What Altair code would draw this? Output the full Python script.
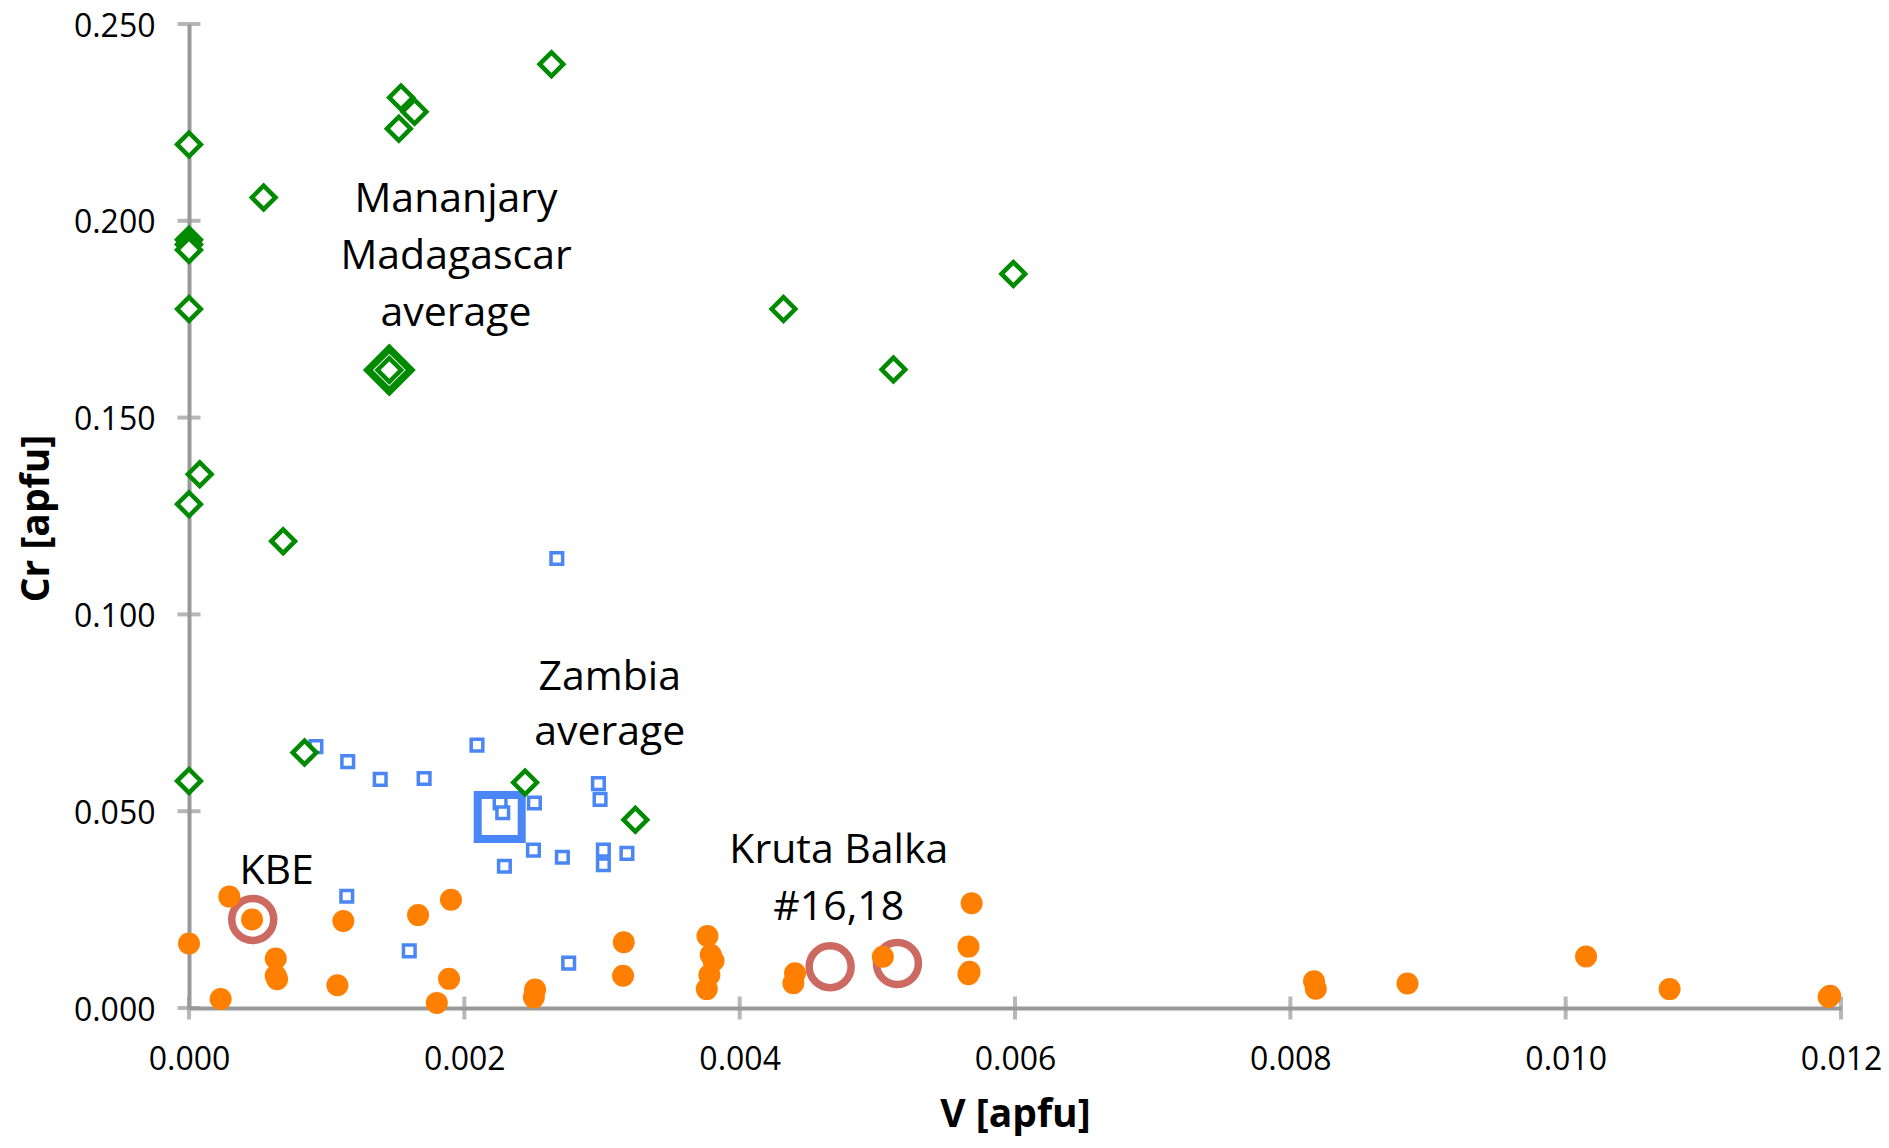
import altair as alt
import pandas as pd

# ---------------- data ----------------
green_x = [0.002633, 0.001540, 0.001638, 0.001524, 0.0, 0.000542, 0.0, 0.0, 0.0,
           0.0, 0.001455, 0.000078, 0.0, 0.000684, 0.004318, 0.005117, 0.005988,
           0.0, 0.000839, 0.002441, 0.003242]
green_y = [0.2398, 0.2313, 0.2277, 0.2234, 0.2194, 0.2059, 0.1952, 0.1940, 0.1926,
           0.1776, 0.1621, 0.1356, 0.1280, 0.1186, 0.1776, 0.1622, 0.1865,
           0.0577, 0.0649, 0.0573, 0.0478]
green_avg_x = [0.001455]
green_avg_y = [0.1621]

blue_x = [0.002672, 0.000922, 0.001153, 0.001389, 0.001708, 0.002092, 0.002974,
          0.002986, 0.002260, 0.002279, 0.002509, 0.002502, 0.002712, 0.003010,
          0.003010, 0.003181, 0.002291, 0.001146, 0.001600, 0.002758]
blue_y = [0.1142, 0.0664, 0.0626, 0.0581, 0.0583, 0.0668, 0.0570,
          0.0530, 0.0521, 0.0496, 0.0521, 0.0401, 0.0383, 0.0401,
          0.0364, 0.0393, 0.0360, 0.0284, 0.0145, 0.0114]
blue_avg_x = [0.002257]
blue_avg_y = [0.0485]

orange_x = [0.000293, 0.000458, 0.0, 0.000630, 0.000630, 0.000640, 0.000230,
            0.001121, 0.001078, 0.001664, 0.001903, 0.001889, 0.001800, 0.002514,
            0.002505, 0.003158, 0.003153, 0.003766, 0.003790, 0.003810, 0.003780,
            0.003761, 0.004402, 0.004390, 0.005040, 0.005685, 0.005662, 0.005662,
            0.005670, 0.008172, 0.008185, 0.008851, 0.010148, 0.010755, 0.011921,
            0.011910]
orange_y = [0.0283, 0.0225, 0.0164, 0.0126, 0.0082, 0.0073, 0.0023,
            0.0221, 0.0058, 0.0236, 0.0275, 0.0074, 0.0013, 0.0047,
            0.0027, 0.0167, 0.0082, 0.0183, 0.0135, 0.0120, 0.0084,
            0.0048, 0.0088, 0.0063, 0.0130, 0.0266, 0.0156, 0.0086,
            0.0092, 0.0068, 0.0049, 0.0062, 0.0131, 0.0048, 0.0031,
            0.0028]

ring_x = [0.000463, 0.004657, 0.005146]
ring_y = [0.0225, 0.0105, 0.0113]

label_text = ["Mananjary", "Madagascar", "average", "Zambia", "average", "KBE",
              "Kruta Balka", "#16,18"]
label_x = [0.00194, 0.00194, 0.00194, 0.003056, 0.003056, 0.000637, 0.00472, 0.00472]
label_y = [0.20228, 0.18782, 0.17335, 0.08071, 0.06675, 0.03147, 0.03673, 0.02234]

x_ticks = [0.0, 0.002, 0.004, 0.006, 0.008, 0.010, 0.012]
y_ticks = [0.0, 0.05, 0.10, 0.15, 0.20, 0.25]

# ---------------- styling ----------------
GRAY = "#999999"
GREEN = "#008a00"
BLUE = "#4a86f5"
ORANGE = "#ff7f00"
RED = "#cc6a62"
FONT = "Open Sans"

xs = alt.Scale(domain=[0, 0.012], nice=False, zero=False)
ys = alt.Scale(domain=[0, 0.25], nice=False, zero=False)

X = alt.X("V:Q", scale=xs, axis=alt.Axis(
    values=x_ticks, format=".3f", title="V [apfu]", grid=False, ticks=False, tickSize=0,
    labelFont=FONT, labelFontSize=32, labelColor="black", labelPadding=36,
    labelFlush=False, labelOverlap=False,
    domainColor=GRAY, domainWidth=4,
    titleFont=FONT, titleFontSize=39, titleFontWeight="bold", titleColor="black",
    titleX=826, titleY=106, titleBaseline="middle", titleAlign="center"))
Y = alt.Y("Cr:Q", scale=ys, axis=alt.Axis(
    values=y_ticks, format=".3f", title="Cr [apfu]", grid=False, ticks=False, tickSize=0,
    labelFont=FONT, labelFontSize=32, labelColor="black", labelPadding=34,
    labelFlush=False, labelOverlap=False, labelOffset=2,
    domainColor=GRAY, domainWidth=4,
    titleFont=FONT, titleFontSize=39, titleFontWeight="bold", titleColor="black",
    titleX=-153, titleY=494, titleBaseline="middle", titleAlign="center", titleAngle=270))


def df(xv, yv):
    return pd.DataFrame({"V": xv, "Cr": yv})


ytick_layer = alt.Chart(df([0.0] * len(y_ticks), y_ticks)).mark_tick(
    orient="horizontal", size=23, thickness=4, color=GRAY).encode(x=X, y=Y)
xtick_layer = alt.Chart(df(x_ticks, [0.0] * len(x_ticks))).mark_tick(
    orient="vertical", size=23, thickness=4, color=GRAY).encode(x=X, y=Y)

rings = alt.Chart(df(ring_x, ring_y)).mark_point(
    shape="circle", size=1760, filled=False, fill="white", stroke=RED,
    strokeWidth=7.5, opacity=1).encode(x=X, y=Y)

blue_avg = alt.Chart(df(blue_avg_x, blue_avg_y)).mark_point(
    shape="square", size=1936, filled=False, fill="white", stroke=BLUE,
    strokeWidth=8, opacity=1).encode(x=X, y=Y)
blue = alt.Chart(df(blue_x, blue_y)).mark_point(
    shape="square", size=135, filled=False, fill="white", stroke=BLUE,
    strokeWidth=3.5, opacity=1).encode(x=X, y=Y)

green_avg = alt.Chart(df(green_avg_x, green_avg_y)).mark_point(
    shape="diamond", size=1830, filled=False, fill="white", stroke=GREEN,
    strokeWidth=7.2, opacity=1).encode(x=X, y=Y)
green = alt.Chart(df(green_x, green_y)).mark_point(
    shape="diamond", size=560, filled=False, fill="white", stroke=GREEN,
    strokeWidth=4.5, opacity=1).encode(x=X, y=Y)

orange = alt.Chart(df(orange_x, orange_y)).mark_point(
    shape="circle", size=484, filled=True, color=ORANGE, opacity=1).encode(x=X, y=Y)

labels = alt.Chart(pd.DataFrame({"V": label_x, "Cr": label_y, "t": label_text})).mark_text(
    font=FONT, fontSize=41, color="black", align="center", baseline="alphabetic"
).encode(x=X, y=Y, text="t:N")

chart = alt.layer(
    ytick_layer, xtick_layer, rings, blue_avg, blue, green_avg, green, orange, labels
).properties(
    width=1652, height=984,
    padding={"left": 181, "top": 16, "right": 40, "bottom": 128},
    autosize=alt.AutoSizeParams(type="none"),
    background="white",
).configure_view(stroke=None)

chart.save("out.html", embed_options={"renderer": "svg", "actions": False})
